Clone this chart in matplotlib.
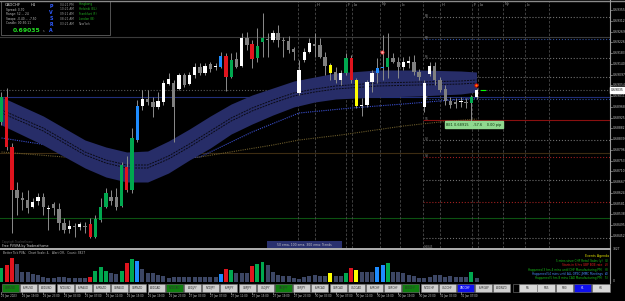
import matplotlib
matplotlib.use('Agg')
import matplotlib.pyplot as plt
from matplotlib.patches import Rectangle
from matplotlib.transforms import blended_transform_factory as blend

plt.rcParams['font.family'] = ['DejaVu Sans']

W, H = 625, 301

# ---------------- data ----------------
symbol = "CADCHF"
timeframe = "H1"
current_price = 0.69035

opens = [0.68907, 0.69007, 0.68807, 0.68635, 0.68603, 0.68595, 0.68567, 0.68591, 0.68607, 0.68559,
         0.68579, 0.68559, 0.68503, 0.68479, 0.68491, 0.68487, 0.68491, 0.68499, 0.68447, 0.68515,
         0.68567, 0.68607, 0.68607, 0.68571, 0.68727, 0.68635, 0.68835, 0.68971, 0.68999, 0.68987,
         0.68967, 0.68987, 0.69059, 0.69063, 0.69039, 0.69095, 0.69059, 0.69095, 0.69127, 0.69103,
         0.69139, 0.69127, 0.69127, 0.69171, 0.69087, 0.69159, 0.69131, 0.69243, 0.69219, 0.69163,
         0.69227, 0.69239, 0.69235, 0.69263, 0.69235, 0.69231, 0.69199, 0.69023, 0.69155, 0.69187,
         0.69219, 0.69215, 0.69167, 0.69135, 0.69107, 0.69075, 0.69103, 0.69163, 0.69075, 0.68971,
         0.68975, 0.69067, 0.69103, 0.69127, 0.69127, 0.69163, 0.69147, 0.69127, 0.69143, 0.69147,
         0.69107, 0.68967, 0.69099, 0.69131, 0.69075, 0.69039, 0.68991, 0.68987, 0.68987, 0.68987,
         0.68983, 0.69007]
highs = [0.69027, 0.69043, 0.68823, 0.68667, 0.68627, 0.68635, 0.68603, 0.68623, 0.68623, 0.68575,
         0.68587, 0.68583, 0.68523, 0.68515, 0.68503, 0.68507, 0.68507, 0.68523, 0.68535, 0.68603,
         0.68643, 0.68635, 0.68643, 0.68747, 0.68771, 0.68883, 0.68995, 0.69035, 0.69035, 0.69007,
         0.69027, 0.69075, 0.69103, 0.69075, 0.69103, 0.69103, 0.69107, 0.69143, 0.69143, 0.69143,
         0.69147, 0.69143, 0.69187, 0.69183, 0.69183, 0.69187, 0.69263, 0.69267, 0.69235, 0.69283,
         0.69343, 0.69263, 0.69275, 0.69295, 0.69247, 0.69251, 0.69207, 0.69155, 0.69203, 0.69243,
         0.69263, 0.69243, 0.69187, 0.69143, 0.69127, 0.69115, 0.69183, 0.69175, 0.69083, 0.69003,
         0.69075, 0.69115, 0.69163, 0.69255, 0.69263, 0.69183, 0.69167, 0.69167, 0.69171, 0.69175,
         0.69119, 0.69075, 0.69147, 0.69147, 0.69087, 0.69055, 0.69007, 0.69003, 0.69007, 0.69003,
         0.69015, 0.69043]
lows = [0.68895, 0.68795, 0.68463, 0.68535, 0.68555, 0.68543, 0.68563, 0.68575, 0.68535, 0.68475,
        0.68535, 0.68475, 0.68463, 0.68463, 0.68447, 0.68475, 0.68463, 0.68443, 0.68443, 0.68507,
        0.68563, 0.68575, 0.68555, 0.68567, 0.68627, 0.68623, 0.68827, 0.68955, 0.68975, 0.68927,
        0.68959, 0.68975, 0.69055, 0.68827, 0.69035, 0.69047, 0.69055, 0.69083, 0.69095, 0.69095,
        0.69107, 0.69115, 0.69123, 0.69031, 0.69083, 0.69123, 0.69127, 0.69195, 0.69123, 0.69147,
        0.69167, 0.69167, 0.69227, 0.69207, 0.69167, 0.69183, 0.69155, 0.69015, 0.69147, 0.69183,
        0.69167, 0.69163, 0.69095, 0.69075, 0.69063, 0.69055, 0.69095, 0.69063, 0.68963, 0.68931,
        0.68967, 0.69027, 0.69063, 0.69075, 0.69083, 0.69143, 0.69083, 0.69115, 0.69123, 0.69095,
        0.69075, 0.68947, 0.69091, 0.69055, 0.69027, 0.68975, 0.68963, 0.68963, 0.68967, 0.68963,
        0.68907, 0.68999]
closes = [0.69007, 0.68807, 0.68635, 0.68603, 0.68595, 0.68563, 0.68587, 0.68607, 0.68567, 0.68563,
          0.68563, 0.68503, 0.68475, 0.68491, 0.68487, 0.68499, 0.68487, 0.68447, 0.68519, 0.68567,
          0.68623, 0.68591, 0.68567, 0.68735, 0.68635, 0.68843, 0.68971, 0.68999, 0.68987, 0.68967,
          0.68991, 0.69063, 0.69079, 0.68967, 0.69095, 0.69055, 0.69095, 0.69127, 0.69103, 0.69131,
          0.69119, 0.69131, 0.69171, 0.69087, 0.69155, 0.69127, 0.69243, 0.69215, 0.69159, 0.69211,
          0.69243, 0.69235, 0.69263, 0.69235, 0.69231, 0.69195, 0.69187, 0.69115, 0.69187, 0.69223,
          0.69211, 0.69167, 0.69131, 0.69103, 0.69075, 0.69103, 0.69163, 0.69075, 0.68971, 0.68975,
          0.69067, 0.69103, 0.69123, 0.69123, 0.69163, 0.69147, 0.69127, 0.69147, 0.69151, 0.69107,
          0.69087, 0.69063, 0.69131, 0.69075, 0.69035, 0.68991, 0.68975, 0.68979, 0.68991, 0.68983,
          0.69007, 0.69035]
# PVSRA class: G green, R red, B blue, Y yellow, W normal bull, D normal bear
pvsra = ["G", "R", "R", "D", "D", "D", "W", "W", "D", "W",
         "D", "D", "D", "W", "D", "W", "D", "R", "G", "G",
         "G", "D", "D", "G", "R", "G", "B", "W", "D", "D",
         "W", "W", "W", "D", "W", "D", "W", "W", "D", "W",
         "D", "W", "B", "R", "G", "D", "W", "D", "R", "G",
         "G", "D", "W", "D", "D", "D", "D", "W", "W", "W",
         "D", "D", "D", "Y", "D", "W", "G", "R", "Y", "W",
         "W", "W", "B", "B", "G", "D", "D", "W", "W", "D",
         "D", "W", "W", "D", "D", "D", "D", "D", "W", "D",
         "G", "W"]
volumes = [1400, 1700, 2400, 1800, 1000, 1000, 800, 700, 500, 400,
           400, 500, 500, 400, 400, 400, 400, 500, 1100, 1500,
           1100, 900, 800, 1100, 1900, 2300, 2100, 1300, 900, 900,
           700, 600, 400, 500, 500, 500, 500, 500, 500, 500,
           500, 500, 800, 1300, 1200, 900, 900, 900, 1600, 1800,
           2000, 1700, 1000, 700, 600, 600, 400, 300, 500, 600,
           700, 600, 600, 900, 600, 600, 900, 1400, 1200, 1000,
           1000, 1000, 1500, 1700, 1900, 1000, 1000, 900, 700, 600,
           400, 400, 500, 700, 700, 500, 600, 500, 500, 500,
           1000, 400]

# EMA channel read at sample bars
band_idx = [0, 8, 16, 20, 24, 28, 32, 36, 40, 44, 48, 52, 56, 60, 64, 72, 80, 88, 91]
band_top = [0.69007, 0.68931, 0.68835, 0.68807, 0.68787, 0.68791, 0.68831, 0.68879, 0.68931, 0.68979,
            0.69015, 0.69043, 0.69071, 0.69087, 0.69103, 0.69115, 0.69115, 0.69111, 0.69107]
band_bot = [0.68895, 0.68815, 0.68723, 0.68687, 0.68667, 0.68667, 0.68703, 0.68755, 0.68803, 0.68859,
            0.68899, 0.68935, 0.68967, 0.68987, 0.68999, 0.69007, 0.69011, 0.69019, 0.69027]
ema_a = [0.68955, 0.68883, 0.68787, 0.68755, 0.68735, 0.68735, 0.68771, 0.68819, 0.68871, 0.68923,
         0.68963, 0.68995, 0.69023, 0.69039, 0.69051, 0.69063, 0.69067, 0.69071, 0.69075]
ema_b = [0.68943, 0.68871, 0.68775, 0.68743, 0.68723, 0.68723, 0.68759, 0.68807, 0.68859, 0.68911,
         0.68951, 0.68983, 0.69011, 0.69027, 0.69039, 0.69051, 0.69055, 0.69059, 0.69063]
blue_idx = [0, 10, 19, 29, 38, 42, 48, 57, 67, 77, 91]
blue_ma = [0.68843, 0.68811, 0.68775, 0.68751, 0.68767, 0.68807, 0.68867, 0.68943, 0.68963, 0.68979, 0.69003]
olive_idx = [0, 12, 25, 38, 52, 57, 65, 77, 84, 91]
olive_ma = [0.68787, 0.68767, 0.68747, 0.68767, 0.68815, 0.68835, 0.68855, 0.68891, 0.68907, 0.68919]

# full-width horizontal lines (price, color, style)
hlines_full = [(0.69247, '#3a3a3a', '-'), (0.69035, '#5a5a5a', ':'), (0.69007, '#1f2d78', '-'),
               (0.68783, '#3d2c12', '-'), (0.68523, '#0c5212', '-')]
# pivot levels drawn from today's start
pivot_start = 80.7
pivot_levels = [(0.69327, '#707070', ':'), (0.69239, '#3050a0', ':'), (0.69163, '#707070', ':'),
                (0.69087, '#707070', ':'), (0.68999, '#3050a0', ':'), (0.68915, '#8a1010', '-'),
                (0.68835, '#707070', ':'), (0.68767, '#a02020', ':'), (0.68675, '#707070', ':'),
                (0.68587, '#a02020', ':'), (0.68443, '#707070', ':')]
pivot_labels = [(0.69323, "R3"), (0.69235, "R2"), (0.69159, "R1"), (0.68995, "PP"),
                (0.68911, "S1"), (0.68831, "S2"), (0.68763, "S3")]

session_x = [56.8, 60.1, 66.0, 67.1, 72.5, 76.3, 80.7, 84.0, 90.1, 91.3, 96.1, 100.3, 104.9]
session_lbl = ["", "H", "F", "Lo", "Ny", "Lc", "", "H", "F", "Lo", "Ny", "Lc", ""]

price_ticks = [0.69355, 0.69312, 0.69269, 0.69226, 0.69183, 0.69140, 0.69097, 0.69054, 0.69011, 0.68968,
               0.68925, 0.68882, 0.68839, 0.68796, 0.68753, 0.68710, 0.68667, 0.68624, 0.68581, 0.68538,
               0.68495, 0.68452]
time_idx = list(range(0, 92, 4))
time_lbl = ["25 Jan 2023", "25 Jan 19:00", "25 Jan 23:00", "26 Jan 03:00", "26 Jan 07:00", "26 Jan 11:00",
            "26 Jan 15:00", "26 Jan 19:00", "26 Jan 23:00", "27 Jan 03:00", "27 Jan 07:00", "27 Jan 11:00",
            "27 Jan 15:00", "27 Jan 19:00", "27 Jan 23:00", "30 Jan 03:00", "30 Jan 07:00", "30 Jan 11:00",
            "30 Jan 15:00", "30 Jan 19:00", "30 Jan 23:00", "31 Jan 03:00", "31 Jan 07:00"]

pair_buttons = ["GBPUSD", "EURUSD", "AUDUSD", "NZDUSD", "EURAUD", "EURNZD", "GBPAUD", "GBPNZD", "AUDCAD",
                "NZDCAD", "AUDJPY", "NZDJPY", "EURJPY", "GBPJPY", "USDJPY", "CADJPY", "CHFJPY", "EURCAD",
                "GBPCAD", "USDCAD", "EURCHF", "GBPCHF", "AUDCHF", "NZDCHF", "USDCHF", "CADCHF", "EURGBP",
                "AUDNZD"]
pair_state = {"GBPUSD": "g", "NZDCAD": "g", "CADJPY": "g", "AUDCHF": "g", "CADCHF": "b"}
tf_buttons = ["M5", "M15", "M30", "H1", "H4"]

events = [("5 mins since CHF Retail Sales (y)", "(1)", '#18c018'),
          ("Starts in 6 hrs GBP BOE rate", "(2)", '#e02020'),
          ("Happened 3 hrs 4 mins until CHF Manufacturing PMI", "(3)", '#18c018'),
          ("Happened 54 mins until ALL OPEC-JMMC Meetings", "(4)", '#4a90ff'),
          ("Happened 5 hrs 8 mins CAD Manufacturing PMI", "(5)", '#18c018')]
clock_times = ["04:21 PM", "10:21 AM", "09:21 AM", "08:21 AM", "03:21 AM"]
clock_cities = ["Hongkong", "Helsinki (EL)", "Frankfurt (F)", "London (B)", "NewYork"]

# ---------------- drawing ----------------
fig = plt.figure(figsize=(W / 100, H / 100), dpi=100, facecolor='black')


def axrect(x0, y0, x1, y1):
    return [x0 / W, 1 - y1 / H, (x1 - x0) / W, (y1 - y0) / H]


XL, XR = -0.287, 116.57          # bar-index range of the plotting area
PT, PB = 0.69391, 0.68403        # price range of the main panel

ax = fig.add_axes(axrect(0, 1, 610, 248))
ax.set_facecolor('black')
ax.set_xlim(XL, XR)
ax.set_ylim(PB, PT)
ax.axis('off')

for p, c, s in hlines_full:
    ax.axhline(p, color=c, lw=0.8, ls=s, zorder=1)
for p, c, s in pivot_levels:
    ax.hlines(p, pivot_start, XR, color=c, lw=0.8, ls=s, zorder=1)
for p, t in pivot_labels:
    ax.text(pivot_start + 0.3, p, t, color='#8a8a8a', fontsize=2.2, va='bottom', ha='left', zorder=6)

for xs, lb in zip(session_x, session_lbl):
    ax.axvline(xs, color='#4a4a4a', lw=0.6, ls=(0, (3, 2)), zorder=1)
    if lb:
        ax.text(xs + 0.3, PT - 0.00006, lb, color='#9a9a9a', fontsize=2.6, va='top', ha='left')

ax.plot(blue_idx, blue_ma, color='#3a4fd0', lw=0.8, ls=(0, (1, 1)), zorder=2)
ax.plot(olive_idx, olive_ma, color='#6a5a2a', lw=0.8, ls=(0, (1, 1)), zorder=2)
ax.fill_between(band_idx, band_bot, band_top, color='#272d68', lw=0, zorder=3)
ax.plot(band_idx, ema_a, color='#0a0a14', lw=0.7, ls=(0, (2, 1)), zorder=4)
ax.plot(band_idx, ema_b, color='#0a0a14', lw=0.7, ls=(0, (2, 1)), zorder=4)

col_map = {"G": '#00a84f', "R": '#e0141e', "B": '#1e8cff', "Y": '#ffff00', "W": '#ffffff', "D": '#808080'}
vol_map = {"G": '#00a84f', "R": '#e0141e', "B": '#1e8cff', "Y": '#ffff00', "W": '#3c4664', "D": '#3c4664'}
min_body = 0.00004
for i in range(len(opens)):
    o, h, l, c = opens[i], highs[i], lows[i], closes[i]
    ax.vlines(i, l, h, color='#8c8c8c', lw=0.7, zorder=5)
    lo, hi = min(o, c), max(o, c)
    if hi - lo < min_body:
        hi = lo + min_body
    ax.bar(i, hi - lo, bottom=lo, width=0.64, color=col_map[pvsra[i]], lw=0, zorder=6)

# markers
ax.scatter([72.9], [0.69187], s=5, facecolor='#f4b0b0', edgecolor='#ff4040', lw=0.6, zorder=7)
ax.scatter([90.9], [0.69055], s=5, facecolor='#ff8c00', edgecolor='#e00000', lw=0.7, zorder=7)
ax.plot([91.9, 92.6], [0.69035, 0.69035], color='#00ff00', lw=0.8, zorder=7)
ax.text(85.2, 0.68897, "BE1 0.68915    -57.6    0.00 pip", color='#0a300a', fontsize=2.5,
        va='center', ha='left', zorder=8,
        bbox=dict(facecolor='#8fd88f', edgecolor='#8fd88f', pad=0.8))

# volume panel
vax = fig.add_axes(axrect(0, 250, 610, 282))
vax.set_facecolor('black')
vax.set_xlim(XL, XR)
vax.set_ylim(0, 3200)
vax.axis('off')
vax.bar(range(len(volumes)), volumes, width=0.76, color=[vol_map[k] for k in pvsra], lw=0)

# overlay in pixel coordinates
ov = fig.add_axes([0, 0, 1, 1])
ov.set_xlim(0, W)
ov.set_ylim(H, 0)
ov.axis('off')
ov.patch.set_alpha(0)

ov.plot([0, 625], [0.5, 0.5], color='#8a8a8a', lw=1.0)
ov.plot([610, 610], [0, 283], color='#9a9a9a', lw=0.8)
ov.plot([0, 610], [249, 249], color='#b0b0b0', lw=1.4)

# price axis labels
tr_price = blend(ov.transData, ax.transData)
for p in price_ticks:
    ov.plot([610, 612], [p, p], color='#9a9a9a', lw=0.5, transform=tr_price)
    ov.text(612.5, p, f"{p:.5f}", color='#c8c8c8', fontsize=2.2, va='center', ha='left', transform=tr_price)
ov.text(611, current_price, f"{current_price:.5f}", color='black', fontsize=2.2, va='center', ha='left',
        transform=tr_price, bbox=dict(facecolor='white', edgecolor='white', pad=0.6))
ov.text(612.5, 249.5, "3827", color='#c8c8c8', fontsize=2.2, va='center', ha='left')
ov.text(612.5, 280.5, "0", color='#c8c8c8', fontsize=2.2, va='center', ha='left')

# info box
ov.add_patch(Rectangle((0.5, 1), 109, 34, facecolor='black', edgecolor='#606060', lw=0.6))
ov.text(5, 4.5, symbol, color='#d8d8d8', fontsize=2.8, va='center')
ov.text(31, 4.5, timeframe, color='#d8d8d8', fontsize=2.8, va='center')
info_lines = ["Spread: 0.70", "Range: 52 ... 24", "Swaps: -0.40 ... -7.50", "Candle: 00:30:11"]
for k, t in enumerate(info_lines):
    ov.text(6, 10 + 4.5 * k, t, color='#c0c0c0', fontsize=2.1, va='center')
ov.text(13, 30.5, f"{current_price:.5f}", color='#22dd22', fontsize=4.4, fontweight='bold', va='center')
ov.text(43, 31.5, "s", color='#909090', fontsize=2.2, va='center')
for k, ch in enumerate("PVSRA"):
    ov.text(51, 6 + 6 * k, ch, color='#2f5bff', fontsize=3.4, fontweight='bold', va='center', ha='center')
for k, (t, cty) in enumerate(zip(clock_times, clock_cities)):
    ov.text(60, 4.5 + 4.8 * k, t, color='#a0a0a0', fontsize=2.1, va='center')
    ov.text(79, 4.5 + 4.8 * k, cty, color='#909090' if cty == "NewYork" else '#20b020', fontsize=2.1, va='center')

# bottom-of-chart texts
ov.text(2, 242.5, "Copyright Traderathome", color='#505050', fontsize=1.8, va='center')
ov.text(2, 245.8, "Free PVSRA by Traderathome", color='#d0d0d0', fontsize=2.3, va='center')
ov.add_patch(Rectangle((267, 241), 75, 7, facecolor='#29306e', edgecolor='#29306e', lw=0))
ov.text(304.5, 244.5, "50 ema, 100 ema, 300 ema: Trends", color='#c8c8c8', fontsize=2.2,
        va='center', ha='center')
ov.text(424, 246.5, "0.6845", color='#8a8a8a', fontsize=2.0, va='center')

# volume panel texts
ov.text(3, 253.5, "Better Tick PVA;   Chart Scale: 4,   Alert Off,   Count: 3827",
        color='#b8b8b8', fontsize=2.1, va='center')
ov.text(597, 256, "Events Agenda", color='#e0e000', fontsize=2.3, va='center', ha='center')
for k, (t, num, c) in enumerate(events):
    yy = 261 + 4.3 * k
    ov.text(602.5, yy, t, color=c, fontsize=2.1, va='center', ha='right')
    ov.text(604.5, yy, num, color=c, fontsize=2.1, va='center', ha='left')

# buttons
for k, name in enumerate(pair_buttons):
    x0 = 2 + 18.2 * k
    st = pair_state.get(name, "")
    fc = {'g': '#0f7f0f', 'b': '#1010ee'}.get(st, '#cfcfcf')
    tc = 'white' if st == 'b' else '#303030'
    ov.add_patch(Rectangle((x0, 283.5), 17, 8.5, facecolor=fc, edgecolor='#7a7a7a', lw=0.4))
    ov.text(x0 + 8.5, 287.8, name, color=tc, fontsize=1.9, va='center', ha='center')
ov.add_patch(Rectangle((512.5, 283.5), 6, 8.5, facecolor='black', edgecolor='#7a7a7a', lw=0.4))
for k, name in enumerate(tf_buttons):
    x0 = 519 + 18.3 * k
    blue = name == timeframe
    ov.add_patch(Rectangle((x0, 283.5), 17.5, 8.5, facecolor='#1010ee' if blue else '#d8d8d8',
                           edgecolor='#7a7a7a', lw=0.4))
    ov.text(x0 + 8.75, 287.8, name, color='white' if blue else '#303030', fontsize=1.9,
            va='center', ha='center')

# time axis
tr_time = blend(ax.transData, ov.transData)
for i, t in zip(time_idx, time_lbl):
    ov.plot([i, i], [292, 293.5], color='#9a9a9a', lw=0.5, transform=tr_time)
    ov.text(i, 296, t, color='#c8c8c8', fontsize=1.9, va='center', ha='left', transform=tr_time)

fig.savefig('out.png', dpi=100, facecolor='black')
